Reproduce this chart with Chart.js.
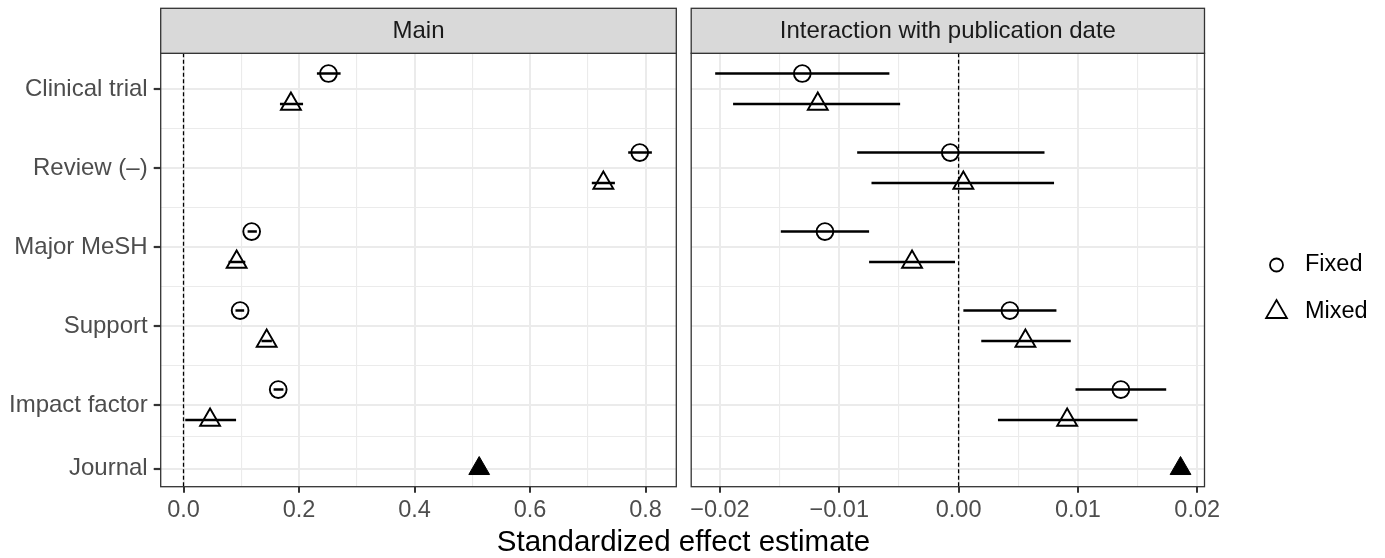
<!DOCTYPE html>
<html>
<head>
<meta charset="utf-8">
<script src="https://cdn.jsdelivr.net/npm/chart.js@4.4.1/dist/chart.umd.min.js"></script>
<style>
  html, body { margin: 0; padding: 0; background: #fff; }
  #wrap { position: relative; width: 1385px; height: 558px; }
  #wrap canvas { position: absolute; left: 0; top: 0; }
</style>
</head>
<body>
<div id="wrap">
  <canvas id="main" width="1385" height="558"></canvas>
  <canvas id="inter" width="1385" height="558"></canvas>
</div>
<script>
// rows, top to bottom (Journal only has a mixed estimate)
const categories = ['Clinical trial', 'Review (–)', 'Major MeSH', 'Support', 'Impact factor', 'Journal'];
const rowPos = [0, 1, 2, 3, 4, 4.8];

// panel "Main"
const mainFixed   = [0.251, 0.790, 0.118, 0.098, 0.164];
const mainFixedLo = [0.231, 0.770, 0.111, 0.090, 0.156];
const mainFixedHi = [0.272, 0.811, 0.127, 0.105, 0.173];
const mainMixed   = [0.186, 0.727, 0.092, 0.144, 0.046];
const mainMixedLo = [0.167, 0.707, 0.078, 0.135, 0.003];
const mainMixedHi = [0.207, 0.747, 0.107, 0.153, 0.091];
const mainJournal = 0.512;

// panel "Interaction with publication date"
const intFixed   = [-0.0131, -0.0007, -0.0112, 0.0043, 0.0136];
const intFixedLo = [-0.0204, -0.0085, -0.0149, 0.0004, 0.0098];
const intFixedHi = [-0.0058,  0.0072, -0.0075, 0.0082, 0.0174];
const intMixed   = [-0.0118,  0.0004, -0.0039, 0.0056, 0.0091];
const intMixedLo = [-0.0189, -0.0073, -0.0075, 0.0019, 0.0033];
const intMixedHi = [-0.0049,  0.0080, -0.0003, 0.0094, 0.0150];
const intJournal = 0.0186;

const mainTicks = [0, 0.2, 0.4, 0.6, 0.8];
const mainMinor = [0.1, 0.3, 0.5, 0.7];
const intTicks = [-0.02, -0.01, 0, 0.01, 0.02];
const intMinor = [-0.015, -0.005, 0.005, 0.015];

const FONT = '"Liberation Sans", Arial, Helvetica, sans-serif';
Chart.defaults.font.family = FONT;
Chart.defaults.animation = false;

const dodgeFixed = -0.2, dodgeMixed = 0.185;
const yMinor = rowPos.slice(1).map((v, i) => (v + rowPos[i]) / 2);

function pts(vals, off) {
  return vals.map((v, i) => ({ x: v, y: rowPos[i] + off }));
}

// error bars, zero line, panel border, strip
const facetPlugin = {
  id: 'facet',
  beforeDatasetsDraw(chart) {
    const { ctx, chartArea: a, scales: { x, y } } = chart;
    ctx.save();
    ctx.beginPath();
    ctx.rect(a.left, a.top, a.right - a.left, a.bottom - a.top);
    ctx.clip();
    // reference line at 0
    ctx.strokeStyle = '#000';
    ctx.lineWidth = 1.3;
    ctx.setLineDash([4, 2.5]);
    const x0 = x.getPixelForValue(0);
    ctx.beginPath();
    ctx.moveTo(x0, a.top);
    ctx.lineTo(x0, a.bottom);
    ctx.stroke();
    ctx.setLineDash([]);
    // horizontal error bars
    ctx.lineWidth = 2.6;
    ctx.lineCap = 'butt';
    chart.data.datasets.forEach(ds => {
      if (!ds.errLo) return;
      ds.data.forEach((p, i) => {
        const py = y.getPixelForValue(p.y);
        ctx.beginPath();
        ctx.moveTo(x.getPixelForValue(ds.errLo[i]), py);
        ctx.lineTo(x.getPixelForValue(ds.errHi[i]), py);
        ctx.stroke();
      });
    });
    ctx.restore();
  },
  afterDraw(chart, args, opts) {
    const { ctx, chartArea: a } = chart;
    ctx.save();
    ctx.strokeStyle = '#333333';
    ctx.lineWidth = 1.3;
    ctx.strokeRect(a.left, a.top, a.right - a.left, a.bottom - a.top);
    // strip
    const st = a.top - 45;
    ctx.fillStyle = '#d9d9d9';
    ctx.fillRect(a.left, st, a.right - a.left, 45);
    ctx.strokeRect(a.left, st, a.right - a.left, 45);
    ctx.fillStyle = '#1a1a1a';
    ctx.font = '24px ' + FONT;
    ctx.textAlign = 'center';
    ctx.textBaseline = 'middle';
    ctx.fillText(opts.title, (a.left + a.right) / 2, st + 23);
    if (opts.axisTitle) {
      ctx.fillStyle = '#000';
      ctx.font = '29.5px ' + FONT;
      ctx.fillText(opts.axisTitle, 683.5, 543);
    }
    if (opts.legend) {
      const items = chart.data.datasets.filter(d => d.errLo);
      const ys = [265, 312];
      ctx.strokeStyle = '#000';
      ctx.lineWidth = 1.8;
      ctx.font = '23.5px ' + FONT;
      ctx.textAlign = 'left';
      items.forEach((d, i) => {
        const cx = 1276.5, cy = ys[i];
        ctx.beginPath();
        if (d.pointStyle === 'circle') {
          ctx.arc(cx, cy, 6.5, 0, Math.PI * 2);
        } else {
          const r = 12;
          ctx.moveTo(cx, cy - r);
          ctx.lineTo(cx + r * 0.866, cy + r / 2);
          ctx.lineTo(cx - r * 0.866, cy + r / 2);
          ctx.closePath();
        }
        ctx.stroke();
        ctx.fillStyle = '#000';
        ctx.fillText(d.label, 1305, cy);
      });
    }
    ctx.restore();
  }
};

function makePanel(id, o) {
  return new Chart(document.getElementById(id), {
    type: 'scatter',
    data: {
      datasets: [
        {
          label: 'Fixed', data: pts(o.fixed, dodgeFixed), errLo: o.fixedLo, errHi: o.fixedHi,
          pointStyle: 'circle', pointRadius: 8.4, borderWidth: 1.9,
          borderColor: '#000', backgroundColor: 'rgba(0,0,0,0)'
        },
        {
          label: 'Mixed', data: pts(o.mixed, dodgeMixed), errLo: o.mixedLo, errHi: o.mixedHi,
          pointStyle: 'triangle', pointRadius: 11.5, borderWidth: 1.9,
          borderColor: '#000', backgroundColor: 'rgba(0,0,0,0)'
        },
        {
          label: 'Journal', data: [{ x: o.journal, y: rowPos[5] }],
          pointStyle: 'triangle', pointRadius: 12, borderWidth: 1,
          borderColor: '#000', backgroundColor: '#000'
        }
      ]
    },
    options: {
      responsive: false,
      events: [],
      layout: { padding: { left: 0, top: 53.3, right: o.padRight, bottom: 0 } },
      plugins: {
        legend: { display: false },
        tooltip: { enabled: false },
        facet: { title: o.title, axisTitle: o.axisTitle, legend: o.legend }
      },
      scales: {
        x: {
          type: 'linear', min: o.xMin, max: o.xMax,
          border: { display: false },
          afterBuildTicks: s => {
            s.ticks = o.ticks.concat(o.minor).sort((a, b) => a - b)
              .map(v => ({ value: v, minor: o.minor.includes(v) }));
          },
          afterFit: s => { s.height = 71.3; s.paddingLeft = 0; s.paddingRight = 0; },
          grid: {
            color: '#ebebeb',
            lineWidth: c => (c.tick && c.tick.minor ? 1.1 : 2),
            tickColor: c => (c.tick && c.tick.minor ? 'rgba(0,0,0,0)' : '#333333'),
            tickWidth: 2, tickLength: 6
          },
          ticks: {
            autoSkip: false, maxRotation: 0, padding: 3.5,
            color: '#4d4d4d', font: { size: 23.5 },
            callback: v => (o.minor.includes(v) ? '' : o.fmt(v))
          }
        },
        y: {
          type: 'linear', reverse: true, min: -0.456, max: 5.03,
          border: { display: false },
          afterBuildTicks: s => {
            s.ticks = rowPos.map(v => ({ value: v, minor: false }))
              .concat(yMinor.map(v => ({ value: v, minor: true })));
          },
          afterFit: s => { s.width = o.yWidth; s.paddingTop = 0; s.paddingBottom = 0; },
          grid: {
            color: '#ebebeb',
            lineWidth: c => (c.tick && c.tick.minor ? 1.1 : 2),
            drawTicks: o.showY,
            tickColor: c => (c.tick && c.tick.minor ? 'rgba(0,0,0,0)' : '#333333'),
            tickWidth: 2.2, tickLength: 7
          },
          ticks: {
            display: o.showY, autoSkip: false, padding: 6,
            color: '#4d4d4d', font: { size: 24 },
            callback: v => {
              const i = rowPos.findIndex(p => Math.abs(p - v) < 1e-6);
              return i < 0 ? '' : categories[i];
            }
          }
        }
      }
    },
    plugins: [facetPlugin]
  });
}

makePanel('main', {
  title: 'Main', axisTitle: 'Standardized effect estimate',
  fixed: mainFixed, fixedLo: mainFixedLo, fixedHi: mainFixedHi,
  mixed: mainMixed, mixedLo: mainMixedLo, mixedHi: mainMixedHi, journal: mainJournal,
  xMin: -0.0395, xMax: 0.8533, ticks: mainTicks, minor: mainMinor,
  fmt: v => v.toFixed(1), yWidth: 160.7, padRight: 1385 - 676.3, showY: true
});

makePanel('inter', {
  title: 'Interaction with publication date', legend: true,
  fixed: intFixed, fixedLo: intFixedLo, fixedHi: intFixedHi,
  mixed: intMixed, mixedLo: intMixedLo, mixedHi: intMixedHi, journal: intJournal,
  xMin: -0.02241, xMax: 0.02061, ticks: intTicks, minor: intMinor,
  fmt: v => v.toFixed(2).replace('-', '\u2212'), yWidth: 691.2, padRight: 1385 - 1204.5, showY: false
});
</script>
</body>
</html>
